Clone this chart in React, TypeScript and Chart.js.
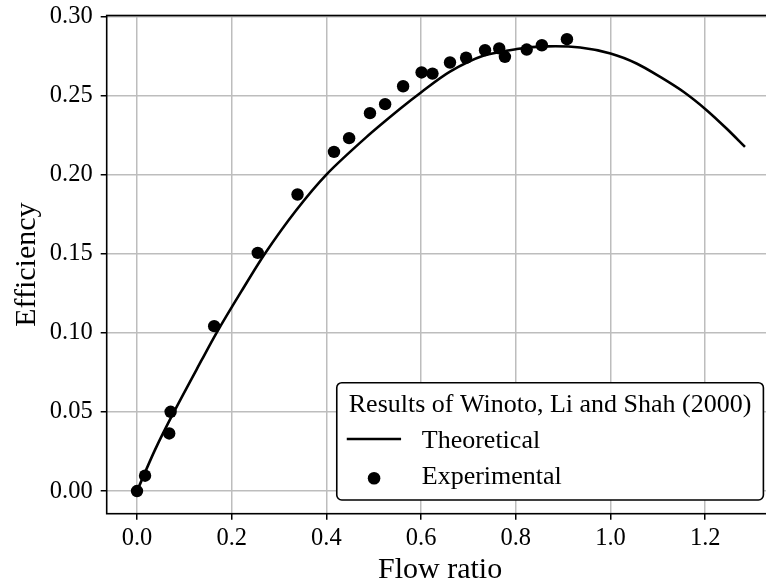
import React, { useEffect, useRef } from "react";
import { Chart, registerables } from "chart.js";

Chart.register(...registerables);

const theoreticalX = [0, 0.038, 0.078, 0.137, 0.168, 0.22, 0.27, 0.335, 0.4, 0.485, 0.555, 0.601, 0.661, 0.731, 0.802, 0.865, 0.936, 1.0, 1.055, 1.105, 1.154, 1.203, 1.245, 1.284];
const theoreticalY = [0, 0.026, 0.05, 0.083, 0.1, 0.126, 0.15, 0.177, 0.2, 0.2238, 0.2414, 0.2522, 0.265, 0.275, 0.2793, 0.281, 0.2803, 0.2765, 0.2702, 0.2617, 0.2523, 0.2407, 0.2291, 0.2175];

const experimentalX = [0.0, 0.017, 0.068, 0.071, 0.163, 0.255, 0.339, 0.416, 0.448, 0.492, 0.524, 0.562, 0.601, 0.624, 0.661, 0.695, 0.735, 0.765, 0.777, 0.823, 0.855, 0.908];
const experimentalY = [0.0, 0.0097, 0.0364, 0.0501, 0.1042, 0.1505, 0.1874, 0.2143, 0.223, 0.2388, 0.2445, 0.2558, 0.2645, 0.2638, 0.2708, 0.2738, 0.2786, 0.2797, 0.2744, 0.279, 0.2817, 0.2855];

const xTicks = [0, 0.2, 0.4, 0.6, 0.8, 1.0, 1.2];
const yTicks = [0, 0.05, 0.1, 0.15, 0.2, 0.25, 0.3];

const legendTitle = "Results of Winoto, Li and Shah (2000)";
const seriesNames = ["Theoretical", "Experimental"];
const xLabel = "Flow ratio";
const yLabel = "Efficiency";

const FONT = "'Liberation Serif', 'Times New Roman', serif";

const framePlugin = {
  id: "frameAndLegend",
  afterDatasetsDraw(chart: any) {
    const { ctx, chartArea: a } = chart;
    ctx.save();
    ctx.strokeStyle = "#000";
    ctx.lineWidth = 1.6;
    ctx.strokeRect(a.left, a.top, a.right - a.left, a.bottom - a.top);
    ctx.restore();
  },
  afterDraw(chart: any) {
    const { ctx, chartArea: a } = chart;
    ctx.save();
    ctx.font = `26px ${FONT}`;
    const titleW = ctx.measureText(legendTitle).width;
    const boxW = titleW + 24;
    const boxH = 117.3;
    const right = a.right - 10;
    const bottom = a.bottom - 13.7;
    const left = right - boxW;
    const top = bottom - boxH;
    ctx.beginPath();
    ctx.roundRect(left, top, boxW, boxH, 5);
    ctx.fillStyle = "#fff";
    ctx.fill();
    ctx.strokeStyle = "#000";
    ctx.lineWidth = 1.6;
    ctx.stroke();

    ctx.fillStyle = "#000";
    ctx.textBaseline = "alphabetic";
    ctx.textAlign = "center";
    ctx.fillText(legendTitle, left + boxW / 2, top + 29);

    ctx.textAlign = "left";
    ctx.beginPath();
    ctx.moveTo(left + 10, top + 56.3);
    ctx.lineTo(left + 64.3, top + 56.3);
    ctx.lineWidth = 2.6;
    ctx.stroke();
    ctx.fillText(seriesNames[0], left + 85, top + 65.6);

    ctx.beginPath();
    ctx.arc(left + 37.3, top + 95.6, 6.3, 0, Math.PI * 2);
    ctx.fill();
    ctx.fillText(seriesNames[1], left + 85, top + 101.5);
    ctx.restore();
  },
};

export default function App() {
  const ref = useRef<HTMLCanvasElement | null>(null);

  useEffect(() => {
    if (!ref.current) return;
    const lineData = theoreticalX.map((x, i) => ({ x, y: theoreticalY[i] }));
    const scatterData = experimentalX.map((x, i) => ({ x, y: experimentalY[i] }));

    const chart = new Chart(ref.current, {
      type: "scatter",
      data: {
        datasets: [
          {
            label: seriesNames[1],
            data: scatterData,
            pointRadius: 6.2,
            pointBackgroundColor: "#000",
            pointBorderWidth: 0,
            showLine: false,
            order: 0,
          },
          {
            label: seriesNames[0],
            data: lineData,
            showLine: true,
            pointRadius: 0,
            borderColor: "#000",
            borderWidth: 2.6,
            tension: 0.3,
            order: 1,
          },
        ],
      },
      options: {
        animation: false,
        responsive: false,
        layout: { padding: { top: 15.5, right: 6.6, left: 0, bottom: 0 } },
        plugins: {
          legend: { display: false },
          tooltip: { enabled: false },
        },
        scales: {
          x: {
            type: "linear",
            min: -0.064,
            max: 1.344,
            afterBuildTicks: (s: any) => {
              s.ticks = xTicks.map((v) => ({ value: v }));
            },
            afterFit: (s: any) => {
              s.height = 73.3;
            },
            ticks: {
              callback: (v: any) => Number(v).toFixed(1),
              font: { family: FONT, size: 24.5 },
              color: "#000",
              padding: 4,
              maxRotation: 0,
              autoSkip: false,
            },
            grid: {
              color: "#bdbdbd",
              lineWidth: 1.5,
              tickColor: "#000",
              tickLength: 6,
              tickWidth: 1.5,
            },
            border: { display: false },
            title: {
              display: true,
              text: xLabel,
              color: "#000",
              font: { family: FONT, size: 30, lineHeight: 1 },
              padding: { top: 0, bottom: 2 },
            },
          },
          y: {
            type: "linear",
            min: -0.0143,
            max: 0.3005,
            afterBuildTicks: (s: any) => {
              s.ticks = yTicks.map((v) => ({ value: v }));
            },
            afterFit: (s: any) => {
              s.width = 106.7;
            },
            ticks: {
              callback: (v: any) => Number(v).toFixed(2),
              font: { family: FONT, size: 24.5, lineHeight: 0.5 },
              color: "#000",
              padding: 8,
              autoSkip: false,
            },
            grid: {
              color: "#bdbdbd",
              lineWidth: 1.5,
              tickColor: "#000",
              tickLength: 6,
              tickWidth: 1.5,
            },
            border: { display: false },
            title: {
              display: true,
              text: yLabel,
              color: "#000",
              font: { family: FONT, size: 30, lineHeight: 1 },
              padding: { top: 12, bottom: 0 },
            },
          },
        },
      },
      plugins: [framePlugin],
    });
    return () => chart.destroy();
  }, []);

  return (
    <div
      style={{
        position: "fixed",
        left: 0,
        top: 0,
        width: 766,
        height: 587,
        overflow: "hidden",
        background: "#fff",
      }}
    >
      <canvas ref={ref} width={780} height={587} style={{ display: "block", width: 780, height: 587 }} />
    </div>
  );
}
